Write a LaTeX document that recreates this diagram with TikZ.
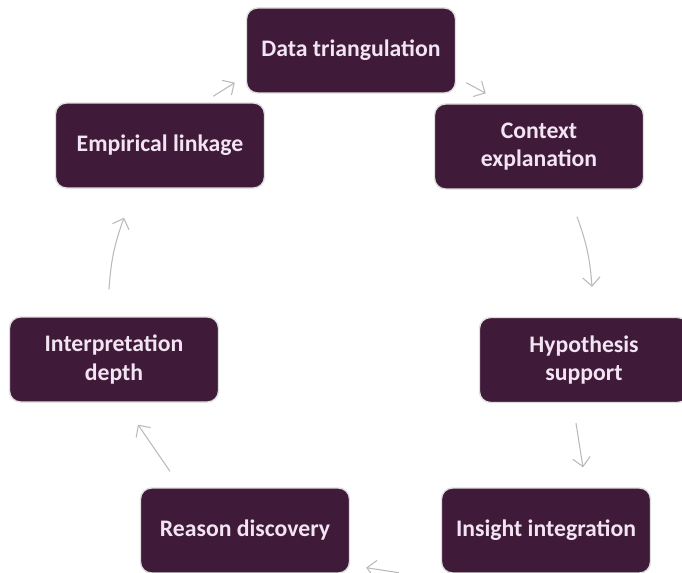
\documentclass[tikz,border=0pt]{standalone}
\usepackage{fontspec}
\setmainfont{Carlito}
\usetikzlibrary{arrows.meta, positioning}

\definecolor{boxfill}{RGB}{63,27,57}
\definecolor{boxtext}{RGB}{242,228,242}

\begin{document}
\begin{tikzpicture}[
  cyclebox/.style={rectangle, rounded corners=0.22cm, minimum width=4.18cm, minimum height=1.7cm, text centered, align=center, draw=gray!25, line width=0.8pt, fill=boxfill, text=boxtext, font=\fontsize{13.5}{16}\selectfont\bfseries},
  arrow/.style={gray!55, line width=0.6pt, -{Straight Barb[length=5pt, width=10pt]}}]

  \useasboundingbox (-7.02,1.01) rectangle (6.62,-10.45);

  % Nodes
  \node (data) [cyclebox] {Data triangulation};
  \node (context) [cyclebox, right of=data, xshift=2.76cm, yshift=-1.92cm] {Context \\ explanation};
  \node (hypothesis) [cyclebox, below of=context, xshift=0.9cm, yshift=-3.27cm] {Hypothesis \\ support};
  \node (insight) [cyclebox, below of=hypothesis, xshift=-0.76cm, yshift=-2.41cm] {Insight integration};
  \node (reason) [cyclebox, left of=insight, xshift=-5.02cm] {Reason discovery};
  \node (interpretation) [cyclebox, above of=reason, xshift=-2.62cm, yshift=2.42cm] {Interpretation \\ depth};
  \node (empirical) [cyclebox, above of=interpretation, xshift=0.92cm, yshift=3.28cm] {Empirical linkage};

  % Arrows
  \draw [arrow] ([xshift=-1.04cm, yshift=0.12cm]empirical.north east) -- ([xshift=-0.22cm, yshift=0.22cm]data.south west);
  \draw [arrow] ([xshift=0.2cm, yshift=0.22cm]data.south east) -- ([xshift=1.04cm, yshift=0.2cm]context.north west);
  \draw [arrow] ([xshift=0.76cm, yshift=-0.54cm]context.south) to[bend left=8] ([xshift=0.16cm, yshift=0.6cm]hypothesis.north);
  \draw [arrow] ([xshift=-0.16cm, yshift=-0.4cm]hypothesis.south) -- ([xshift=0.74cm, yshift=0.4cm]insight.north);
  \draw [arrow] ([xshift=-0.84cm, yshift=0.02cm]insight.south west) -- ([xshift=0.32cm, yshift=0.12cm]reason.south east);
  \draw [arrow] ([xshift=-1.5cm, yshift=0.32cm]reason.north) -- ([xshift=0.48cm, yshift=-0.44cm]interpretation.south);
  \draw [arrow] ([xshift=-0.1cm, yshift=0.54cm]interpretation.north) to[bend left=8] ([xshift=-0.72cm, yshift=-0.58cm]empirical.south);

\end{tikzpicture}
\end{document}
